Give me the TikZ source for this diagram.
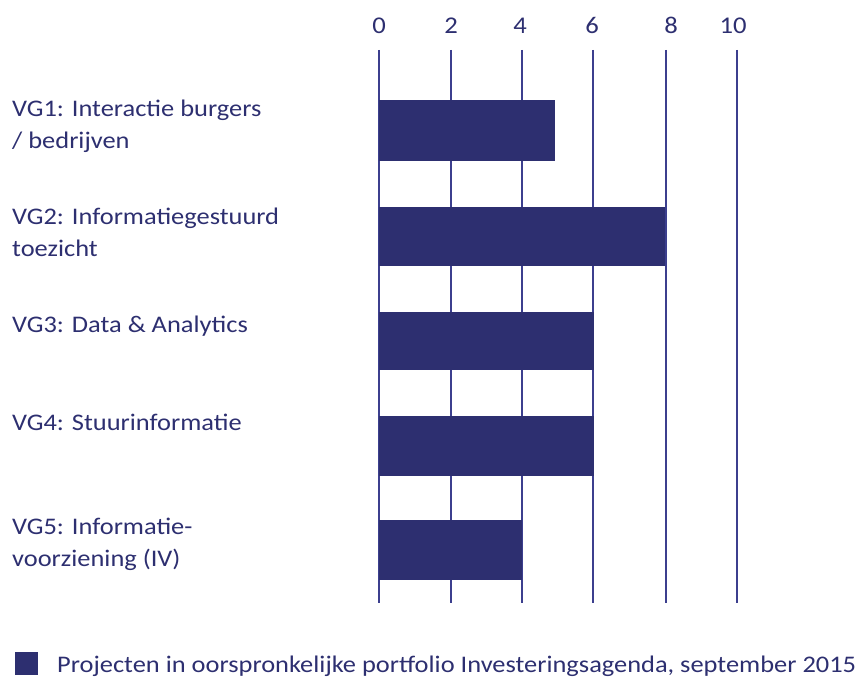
\documentclass[tikz,border=0pt]{standalone}
\usepackage{fontspec}
\setmainfont{Carlito}
\newfontfamily\vgfont[FakeStretch=1.11]{Carlito}
\usepackage{xcolor}
\usepackage{tikz}
\usetikzlibrary{positioning}

\definecolor{vgnavy}{HTML}{2D2F70}
\definecolor{vgline}{HTML}{3C3F8E}

\begin{document}
\begin{tikzpicture}[
    x=1pt, y=-1pt,
    gridline/.style={draw=vgline, line width=1.4pt},
    bar/.style={fill=vgnavy},
    ticklabel/.style={text=vgnavy, font=\vgfont\fontsize{24}{26}\selectfont, anchor=base, inner sep=0pt},
    catlabel/.style={text=vgnavy, font=\vgfont\fontsize{23.8}{32}\selectfont, anchor=base west, align=left, inner sep=0pt},
    legendtext/.style={text=vgnavy, font=\vgfont\fontsize{23.8}{26}\selectfont, anchor=base west, inner sep=0pt}
]
\useasboundingbox (0,0) rectangle (865,677);

% Axis grid with tick labels
\foreach \v/\px/\lx in {0/379/379, 2/451/451, 4/522/520, 6/593/592, 8/666/671, 10/737/733} {
    \draw[gridline] (\px,50) -- (\px,603);
    \node[ticklabel] (tick-\v) at (\lx,34) {\v};
}

% Bars (one unit = 35.8px)
\fill[bar] (379,100) rectangle (555,161);
\fill[bar] (379,207) rectangle (665,266);
\fill[bar] (379,312) rectangle (594,370);
\fill[bar] (379,416) rectangle (594,476);
\fill[bar] (379,520) rectangle (522,580);

% Category labels (anchor sits on the last line)
\node[catlabel] (vg1) at (12,148) {VG1: Interactie burgers\\/ bedrijven};
\node[catlabel] (vg2) at (12,256) {VG2: Informatiegestuurd\\toezicht};
\node[catlabel] (vg3) at (12,332) {VG3: Data \& Analytics};
\node[catlabel] (vg4) at (12,430) {VG4: Stuurinformatie};
\node[catlabel] (vg5) at (12,566) {VG5: Informatie-\\voorziening (IV)};

% Legend
\fill[bar] (15,652) rectangle (38,675);
\node[legendtext] (legend) at (57,672) {Projecten in oorspronkelijke portfolio Investeringsagenda, september 2015};

\end{tikzpicture}
\end{document}
